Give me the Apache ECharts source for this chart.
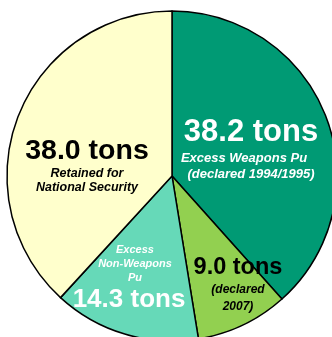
<!DOCTYPE html>
<html>
<head>
<meta charset="utf-8">
<script src="https://cdn.jsdelivr.net/npm/echarts@6/dist/echarts.min.js"></script>
<style>
  html, body { margin: 0; padding: 0; background: #fff; }
  #chart { width: 332px; height: 337px; }
</style>
</head>
<body>
<div id="chart"></div>
<script>
// slice data, clockwise from 12 o'clock
var names = ["Excess Weapons Pu", "Declared 2007", "Excess Non-Weapons Pu", "Retained for National Security"];
var tons = [38.2, 9.0, 14.3, 38.0];
var notes = [
  ["Excess Weapons Pu", "(declared 1994/1995)"],
  ["(declared", "2007)"],
  ["Excess", "Non-Weapons", "Pu"],
  ["Retained for", "National Security"]
];
var colors = ["#009A74", "#92D050", "#66D9B8", "#FFFFCC"];

// where each label block sits (center x / y of the block)
var labelPos = [[251, 148], [238, 285], [135, 279], [87, 165]];

var myChart = echarts.init(document.getElementById("chart"));

var data = [];
for (var i = 0; i < tons.length; i++) {
  data.push({ name: names[i], value: tons[i], itemStyle: { color: colors[i] } });
}

function fmt(p) {
  var i = p.dataIndex;
  var big = "{big" + i + "|" + tons[i].toFixed(1) + " tons}";
  var small = notes[i].map(function (s, k) {
    var key = (i === 0 && k === 0) ? "first0" : "sm" + i;
    return "{" + key + "|" + s + "}";
  }).join("\n");
  if (i === 2) return small + "\n" + big;
  return big + "\n" + small;
}

var font = "Liberation Sans, Arial, sans-serif";
var option = {
  animation: false,
  series: [
    {
      type: "pie",
      center: [172, 176],
      radius: 165,
      startAngle: 90,
      clockwise: true,
      silent: true,
      data: data,
      itemStyle: { borderColor: "#000", borderWidth: 1.5 },
      label: {
        show: true,
        position: "inside",
        formatter: fmt,
        align: "center",
        rich: {
          big0: { fontFamily: font, fontWeight: "bold", fontSize: 31, color: "#fff", lineHeight: 36 },
          first0: { fontFamily: font, fontWeight: "bold", fontStyle: "italic", fontSize: 13, color: "#fff", lineHeight: 16, padding: [0, 14, 0, 0] },
          sm0: { fontFamily: font, fontWeight: "bold", fontStyle: "italic", fontSize: 13, color: "#fff", lineHeight: 16 },
          big1: { fontFamily: font, fontWeight: "bold", fontSize: 23.5, color: "#000", lineHeight: 26 },
          sm1: { fontFamily: font, fontWeight: "bold", fontStyle: "italic", fontSize: 12, color: "#000", lineHeight: 17 },
          big2: { fontFamily: font, fontWeight: "bold", fontSize: 26, color: "#fff", lineHeight: 30, padding: [0, 12, 0, 0] },
          sm2: { fontFamily: font, fontWeight: "bold", fontStyle: "italic", fontSize: 11, color: "#fff", lineHeight: 14 },
          big3: { fontFamily: font, fontWeight: "bold", fontSize: 28.5, color: "#000", lineHeight: 32 },
          sm3: { fontFamily: font, fontWeight: "bold", fontStyle: "italic", fontSize: 12.5, color: "#000", lineHeight: 14 }
        }
      },
      labelLine: { show: false },
      labelLayout: function (params) {
        var p = labelPos[params.dataIndex];
        return { x: p[0], y: p[1], align: "center", verticalAlign: "middle" };
      }
    }
  ]
};

myChart.setOption(option);
window.addEventListener("resize", function () {
  myChart.resize();
});
</script>
</body>
</html>
